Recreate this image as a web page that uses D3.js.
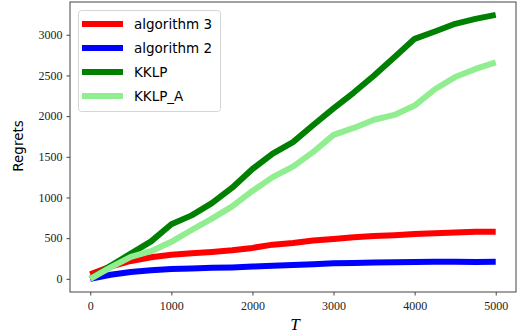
<!DOCTYPE html>
<html><head><meta charset="utf-8">
<script src="https://cdn.jsdelivr.net/npm/d3@7"></script>
<style>body{margin:0;background:#fff}</style>
</head><body>
<svg id="c" width="521" height="335"></svg>
<script>
const T = [0,250,500,750,1000,1250,1500,1750,2000,2250,2500,2750,3000,3250,3500,3750,4000,4250,4500,4750,5000];
const alg3 = [55,150,220,265,295,315,330,350,380,420,440,470,490,510,525,535,550,560,568,578,578];
const alg2 = [0,50,85,105,120,128,135,140,150,160,170,180,190,195,200,203,207,210,210,208,210];
const kklp = [0,160,310,460,670,780,930,1120,1350,1540,1680,1890,2095,2290,2500,2725,2950,3040,3135,3195,3245];
const kklpA = [0,140,270,340,455,600,740,890,1080,1250,1380,1560,1770,1855,1955,2015,2130,2330,2480,2580,2660];
const xTicks = [0,1000,2000,3000,4000,5000];
const yTicks = [0,500,1000,1500,2000,2500,3000];
const seriesNames = ["algorithm 3","algorithm 2","KKLP","KKLP_A"];
const seriesColors = ["#ff0000","#0000ff","#008000","#90ee90"];
const seriesData = [alg3, alg2, kklp, kklpA];

const svg = d3.select("#c");
const L = 70, R = 516, Tp = 2, B = 292;
const x = d3.scaleLinear().domain([-250, 5250]).range([L, R]);
const y = d3.scaleLinear().domain([-162, 3403]).range([B, Tp]);

const line = d3.line().x((d,i)=>x(T[i])).y(d=>y(d));
seriesData.forEach((s,k)=>{
  svg.append("path").attr("d", line(s)).attr("fill","none")
    .attr("stroke", seriesColors[k]).attr("stroke-width", 6)
    .attr("stroke-linejoin","round").attr("stroke-linecap","butt");
});

svg.append("rect").attr("x",L).attr("y",Tp).attr("width",R-L).attr("height",B-Tp)
  .attr("fill","none").attr("stroke","#444").attr("stroke-width",1);

const xa = svg.append("g").attr("transform",`translate(0,${B})`)
  .call(d3.axisBottom(x).tickValues(xTicks).tickSize(3.5).tickPadding(4).tickFormat(d3.format("d")));
const ya = svg.append("g").attr("transform",`translate(${L},0)`)
  .call(d3.axisLeft(y).tickValues(yTicks).tickSize(3.5).tickPadding(4).tickFormat(d3.format("d")));
[xa,ya].forEach(a=>{
  a.select(".domain").remove();
  a.selectAll("line").attr("stroke","#444");
  a.selectAll("text").attr("font-family","'Liberation Serif', serif").attr("font-size",12).attr("fill","#222");
});
xa.selectAll("text").attr("dy","0.9em");

svg.append("text").attr("transform","translate(23,146) rotate(-90)").attr("text-anchor","middle")
  .attr("font-family","'DejaVu Sans', sans-serif").attr("font-size",13.5).text("Regrets");
svg.append("text").attr("x",295).attr("y",330).attr("text-anchor","middle")
  .attr("font-family","'Liberation Serif', serif").attr("font-style","italic").attr("font-size",17).text("T");

const lg = svg.append("g");
lg.append("rect").attr("x",78.5).attr("y",10.5).attr("width",142).attr("height",101).attr("rx",3)
  .attr("fill","#fff").attr("fill-opacity",0.8).attr("stroke","#d5d5d5");
seriesNames.forEach((n,i)=>{
  const yy = 24 + i*24;
  lg.append("line").attr("x1",82).attr("x2",123).attr("y1",yy).attr("y2",yy)
    .attr("stroke",seriesColors[i]).attr("stroke-width",6);
  lg.append("text").attr("x",134).attr("y",yy).attr("dy","0.35em")
    .attr("font-family","'DejaVu Sans', sans-serif").attr("font-size",13.5).text(n);
});
</script>
</body></html>
